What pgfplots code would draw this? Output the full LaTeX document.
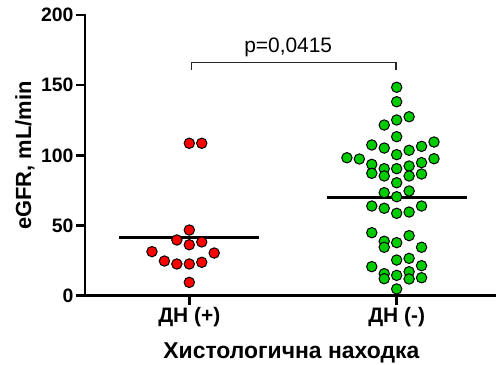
\documentclass[border=0pt]{standalone}
\usepackage{fontspec}
\setmainfont{Liberation Sans}
\usepackage{pgfplots}
\pgfplotsset{compat=1.18}
\definecolor{mygreen}{RGB}{0,204,0}
\begin{document}
\begin{tikzpicture}
\begin{axis}[
  at={(85bp,69.3bp)}, anchor=south west,
  scale only axis,
  width=411bp, height=280.7bp,
  xmin=-0.503, xmax=1.479,
  ymin=0, ymax=200,
  axis lines*=left,
  axis line style={line width=2.6bp, line cap=rect},
  xtick={0,1}, xticklabels={ДН (+),ДН (-)},
  ytick={0,50,100,150,200},
  tick align=outside,
  major tick length=9bp,
  tick style={line width=2.6bp, black},
  /pgf/number format/assume math mode=true,
  yticklabel style={font=\bfseries\fontsize{19.5}{19.5}\selectfont, xshift=1bp},
  xticklabel style={font=\bfseries\fontsize{21}{21}\selectfont, yshift=1bp},
  ylabel={eGFR, mL/min},
  xlabel={Хистологична находка},
  ylabel style={font=\bfseries\fontsize{22}{22}\selectfont, at={(axis description cs:-0.146,0.5)}, anchor=center, rotate=0},
  xlabel style={font=\bfseries\fontsize{23}{23}\selectfont, at={(axis description cs:0.502,-0.222)}, anchor=base},
  clip=false,
]
\addplot[only marks, mark=*, mark size=5.2bp, mark options={fill=red, draw=black, line width=1bp}] coordinates {
(0,108.6) (0.06,108.6) (0,46.8) (-0.06,39.7) (0.06,38.3) (0,36.3) (-0.18,31.4) (0.12,30.4) (-0.12,24.7) (-0.06,22.6) (0,22.6) (0.06,23.8) (0,9.5)
};
\addplot[only marks, mark=*, mark size=5.2bp, mark options={fill=mygreen, draw=black, line width=1bp}] coordinates {
(1,148.5) (1,138.2) (0.94,121.6) (1,125.2) (1.06,127.5) (1,113.3) (0.88,107.4) (0.94,105.2) (1,100.5) (1.06,103.6) (1.12,106.4) (1.18,109.5)
(0.76,98.3) (0.82,97.4) (0.88,93.6) (0.94,90.5) (1,90.5) (1.06,92.4) (1.12,94.8) (1.18,97.6) (0.88,87.2) (0.94,85.3) (1.06,85.3) (1.12,86.7) (1,80.5)
(0.94,73.4) (1.06,74.6) (1,70.5) (0.88,63.9) (0.94,62.3) (1,58.7) (1.06,59.6) (1.12,63.9) (0.88,44.9) (0.94,38.8) (0.94,34.5) (1,37.8) (1.06,42.8)
(1.12,34.5) (1,25.4) (1.06,26.6) (0.88,20.7) (0.94,15.7) (0.94,12.1) (1,14.5) (1.06,17.1) (1.06,11.9) (1.12,21.4) (1.12,12.8) (1,4.8)
};
\addplot[black, line width=2.8bp, no marks] coordinates {(-0.3375,41.3) (0.3375,41.3)};
\addplot[black, line width=2.8bp, no marks] coordinates {(0.6625,70.1) (1.3375,70.1)};
\draw[black!85, line width=1.4bp] (axis cs:0.012,160.8) -- (axis cs:0.012,166) -- (axis cs:0.997,166) -- (axis cs:0.997,160.8);
\node[anchor=base, font=\fontsize{21}{21}\selectfont, inner sep=0pt] at (axis cs:0.477,173.6) {p=0,0415};
\end{axis}
\pgfresetboundingbox
\path[use as bounding box] (0,0) rectangle (496bp,365bp);
\end{tikzpicture}
\end{document}
